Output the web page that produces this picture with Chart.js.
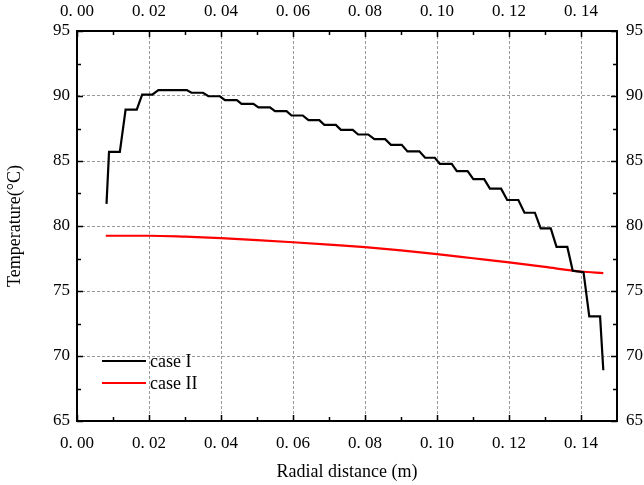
<!DOCTYPE html>
<html>
<head>
<meta charset="utf-8">
<script src="https://cdn.jsdelivr.net/npm/chart.js@4/dist/chart.umd.min.js"></script>
<style>
  html, body { margin: 0; padding: 0; background: #fff; }
  #wrap { width: 644px; height: 485px; }
</style>
</head>
<body>
<div id="wrap"><canvas id="temp-chart"></canvas></div>
<script>
// radial position (m) and temperature (°C)
var caseIx = [0.0082, 0.0089, 0.0119, 0.0135, 0.0166, 0.0181, 0.0209, 0.0226, 0.0305, 0.0318,
    0.0350, 0.0365, 0.0397, 0.0411, 0.0444, 0.0457, 0.0490, 0.0504, 0.0536, 0.0550,
    0.0582, 0.0596, 0.0627, 0.0643, 0.0673, 0.0687, 0.0719, 0.0733, 0.0766, 0.0781,
    0.0809, 0.0826, 0.0856, 0.0872, 0.0902, 0.0918, 0.0951, 0.0967, 0.0994, 0.1008,
    0.1041, 0.1055, 0.1085, 0.1101, 0.1131, 0.1147, 0.1178, 0.1195, 0.1226, 0.1243,
    0.1272, 0.1288, 0.1316, 0.1332, 0.1362, 0.1377, 0.1407, 0.1423, 0.1453, 0.1462];
var caseIy = [81.7, 85.7, 85.7, 88.95, 88.95, 90.1, 90.1, 90.45, 90.45, 90.25,
    90.25, 89.98, 89.98, 89.68, 89.68, 89.4, 89.4, 89.12, 89.12, 88.83,
    88.83, 88.5, 88.5, 88.14, 88.14, 87.78, 87.78, 87.4, 87.4, 87.04,
    87.04, 86.68, 86.68, 86.24, 86.24, 85.74, 85.74, 85.25, 85.25, 84.78,
    84.78, 84.22, 84.22, 83.61, 83.61, 82.87, 82.87, 82.0, 82.0, 81.02,
    81.02, 79.82, 79.82, 78.39, 78.39, 76.55, 76.45, 73.05, 73.05, 68.9];

var caseIIx = [0.008, 0.02, 0.03, 0.04, 0.05, 0.06, 0.07, 0.08, 0.09, 0.10, 0.11, 0.12, 0.13, 0.14, 0.1462];
var caseIIy = [79.25, 79.25, 79.18, 79.07, 78.92, 78.75, 78.57, 78.37, 78.12, 77.84, 77.52, 77.2, 76.85, 76.5, 76.38];

var seriesNames = ["case I", "case II"];
var xTicks = [0, 0.02, 0.04, 0.06, 0.08, 0.10, 0.12, 0.14];
var yTicks = [65, 70, 75, 80, 85, 90, 95];

function pts(xs, ys) {
    return xs.map(function (x, i) { return {x: x, y: ys[i]}; });
}

var serif = "'Liberation Serif', 'Times New Roman', serif";
var tickFont = {family: serif, size: 17};
var fmtX = function (v) { return v.toFixed(2).replace('.', '. '); };

// frame + inward ticks (major and minor) like the original
var framePlugin = {
    id: 'frame',
    afterDraw: function (chart) {
        var ctx = chart.ctx, a = chart.chartArea;
        var xs = chart.scales.x, ys = chart.scales.y;
        ctx.save();
        ctx.strokeStyle = '#000';
        ctx.lineWidth = 2;
        ctx.strokeRect(a.left, a.top, a.right - a.left, a.bottom - a.top);
        ctx.lineWidth = 1.5;
        ctx.beginPath();
        for (var v = 0; v <= 0.1401; v += 0.01) {
            var px = Math.round(xs.getPixelForValue(v)) + 0.5;
            var len = (Math.round(v * 100) % 2 === 0) ? 6 : 4;
            ctx.moveTo(px, a.bottom); ctx.lineTo(px, a.bottom - len);
            ctx.moveTo(px, a.top); ctx.lineTo(px, a.top + len);
        }
        for (var t = 65; t <= 95; t += 2.5) {
            var py = Math.round(ys.getPixelForValue(t)) + 0.5;
            var l2 = (t % 5 === 0) ? 6 : 4;
            ctx.moveTo(a.left, py); ctx.lineTo(a.left + l2, py);
            ctx.moveTo(a.right, py); ctx.lineTo(a.right - l2, py);
        }
        ctx.stroke();

        // legend inside the plot, bottom left
        var ds = chart.data.datasets;
        ctx.font = '18px ' + serif;
        ctx.textBaseline = 'middle';
        ctx.fillStyle = '#000';
        var y0 = [361, 383];
        ds.forEach(function (d, i) {
            ctx.strokeStyle = d.borderColor;
            ctx.lineWidth = 2;
            ctx.beginPath();
            ctx.moveTo(102, y0[i]); ctx.lineTo(146, y0[i]);
            ctx.stroke();
            ctx.fillText(d.label, 150, y0[i] + 1);
        });
        ctx.restore();
    }
};

new Chart(document.getElementById("temp-chart"), {
    type: 'line',
    data: {
        datasets: [{
            label: seriesNames[0],
            data: pts(caseIx, caseIy),
            borderColor: "#000000",
            borderWidth: 2.2,
            pointRadius: 0,
            tension: 0,
            fill: false
        }, {
            label: seriesNames[1],
            data: pts(caseIIx, caseIIy),
            borderColor: "#ff0000",
            borderWidth: 2.2,
            pointRadius: 0,
            cubicInterpolationMode: 'monotone',
            fill: false
        }]
    },
    options: {
        responsive: true,
        maintainAspectRatio: false,
        animation: false,
        layout: {padding: 0},
        plugins: {
            legend: {display: false},
            tooltip: {enabled: false}
        },
        scales: {
            x: {
                type: 'linear', position: 'bottom', min: 0, max: 0.15,
                afterBuildTicks: function (s) { s.ticks = xTicks.map(function (v) { return {value: v}; }); },
                afterFit: function (s) { s.height = 64; },
                grid: {color: '#999', lineWidth: 1, drawTicks: false},
                border: {display: false, dash: [3, 2]},
                ticks: {font: tickFont, color: '#000', padding: 12, maxRotation: 0, callback: fmtX},
                title: {display: true, text: 'Radial distance (m)', font: {family: serif, size: 18}, color: '#000', padding: {top: 0, bottom: 2}}
            },
            x2: {
                type: 'linear', position: 'top', min: 0, max: 0.15,
                afterBuildTicks: function (s) { s.ticks = xTicks.map(function (v) { return {value: v}; }); },
                afterFit: function (s) { s.height = 31; },
                grid: {display: false, drawTicks: false},
                border: {display: false},
                ticks: {font: tickFont, color: '#000', padding: 9, maxRotation: 0, callback: fmtX}
            },
            y: {
                position: 'left', min: 65, max: 95,
                afterBuildTicks: function (s) { s.ticks = yTicks.map(function (v) { return {value: v}; }); },
                afterFit: function (s) { s.width = 77; },
                grid: {color: '#999', lineWidth: 1, drawTicks: false},
                border: {display: false, dash: [3, 2]},
                ticks: {font: tickFont, color: '#000', padding: 7},
                title: {display: true, text: 'Temperature(°C)', font: {family: serif, size: 18}, color: '#000', padding: {top: 4, bottom: 0}}
            },
            y2: {
                position: 'right', min: 65, max: 95,
                afterBuildTicks: function (s) { s.ticks = yTicks.map(function (v) { return {value: v}; }); },
                afterFit: function (s) { s.width = 27; },
                grid: {display: false, drawTicks: false},
                border: {display: false},
                ticks: {font: tickFont, color: '#000', padding: 9}
            }
        }
    },
    plugins: [framePlugin]
});
</script>
</body>
</html>
